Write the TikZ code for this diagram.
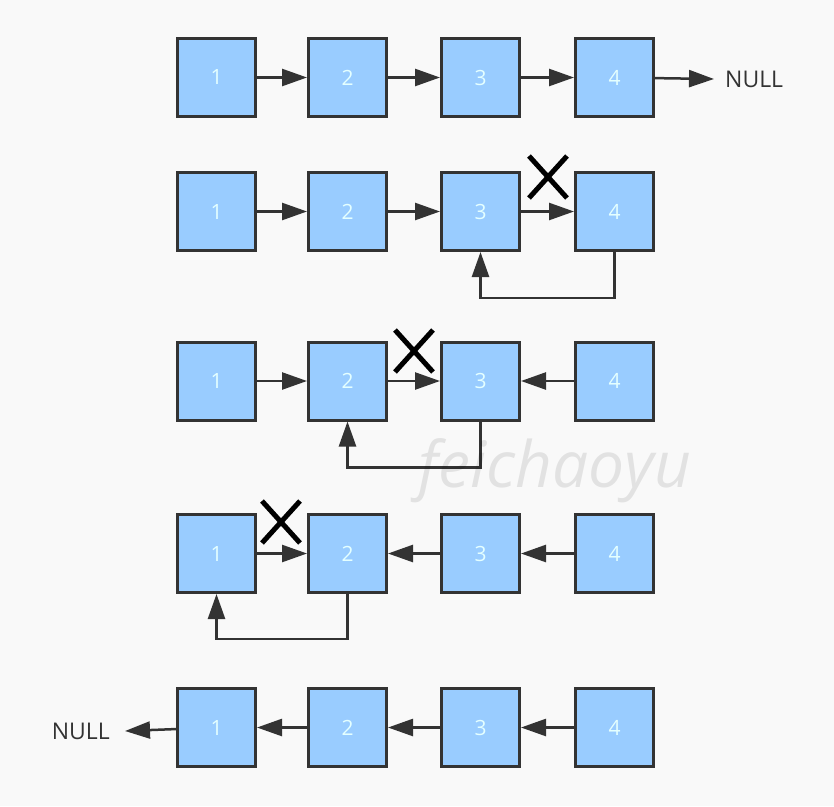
\documentclass[tikz,border=0pt]{standalone}
\usepackage{fontspec}
\setmainfont{Open Sans}
\usetikzlibrary{arrows.meta}

\definecolor{nodeblue}{HTML}{99CCFF}
\definecolor{edgegray}{HTML}{333333}
\definecolor{numcolor}{HTML}{E4FFFF}
\definecolor{paper}{HTML}{F9F9F9}

\begin{document}
\begin{tikzpicture}[> = {Triangle[length=25pt, width=17pt]}, x=1pt, y=-1pt]

    \tikzset{
        box/.style = {draw=edgegray, fill=nodeblue, line width=3pt,
            minimum size=78pt, inner sep=0pt, text=numcolor,
            font=\fontsize{21}{25}\selectfont},
        link/.style = {->, draw=edgegray, line width=2.5pt},
        cut/.style = {line width=5pt, black},
        nulltext/.style = {text=edgegray, inner sep=0pt,
            font=\fontsize{23}{27}\selectfont}
    }
    \def\drawRow#1#2{
        \foreach \i/\x in {1/216.5, 2/347.5, 3/480.5, 4/614.5}{
            \node [box] (n#1\i) at (\x, #2) {\i};
        }
    }
    \def\drawCut#1#2{
        \draw [cut] (#1-19, #2-21) -- (#1+19, #2+21)
            (#1-19, #2+21) -- (#1+19, #2-21);
    }

    \useasboundingbox [fill=paper] (0, 0) rectangle (834, 806);

    % Original list
    \drawRow{1}{77.5}
    \node [nulltext, anchor=west] (null1) at (725, 79) {NULL};
    \foreach \a/\b in {11/12, 12/13, 13/14}{
        \draw [link] (n\a) -- (n\b);
    }
    \draw [link] (n14) -- ([xshift=-11pt]null1.west);

    % Step 1: 4 points back to 3
    \drawRow{2}{211.5}
    \foreach \a/\b in {21/22, 22/23, 23/24}{
        \draw [link] (n\a) -- (n\b);
    }
    \drawCut{548}{177}
    \draw [link] (n24.south) -- ++(0, 46) -| (n23.south);

    % Step 2: 3 points back to 2
    \drawRow{3}{381}
    \foreach \a/\b in {31/32, 32/33, 34/33}{
        \draw [link] (n\a) -- (n\b);
    }
    \drawCut{414}{351}
    \draw [link] (n33.south) -- ++(0, 46) -| (n32.south);

    % Step 3: 2 points back to 1
    \drawRow{4}{553.5}
    \foreach \a/\b in {41/42, 43/42, 44/43}{
        \draw [link] (n\a) -- (n\b);
    }
    \drawCut{281}{522}
    \draw [link] (n42.south) -- ++(0, 45) -| (n41.south);

    % Reversed list
    \drawRow{5}{727.5}
    \node [nulltext, anchor=east] (null5) at (110, 731) {NULL};
    \foreach \a/\b in {52/51, 53/52, 54/53}{
        \draw [link] (n\a) -- (n\b);
    }
    \draw [link] (n51) -- ([xshift=15pt]null5.east);

    % Watermark
    \node [text=black, text opacity=0.09, inner sep=0pt, anchor=base,
        font=\itshape\fontsize{64}{72}\selectfont] (mark) at (555, 487) {feichaoyu};

\end{tikzpicture}
\end{document}
